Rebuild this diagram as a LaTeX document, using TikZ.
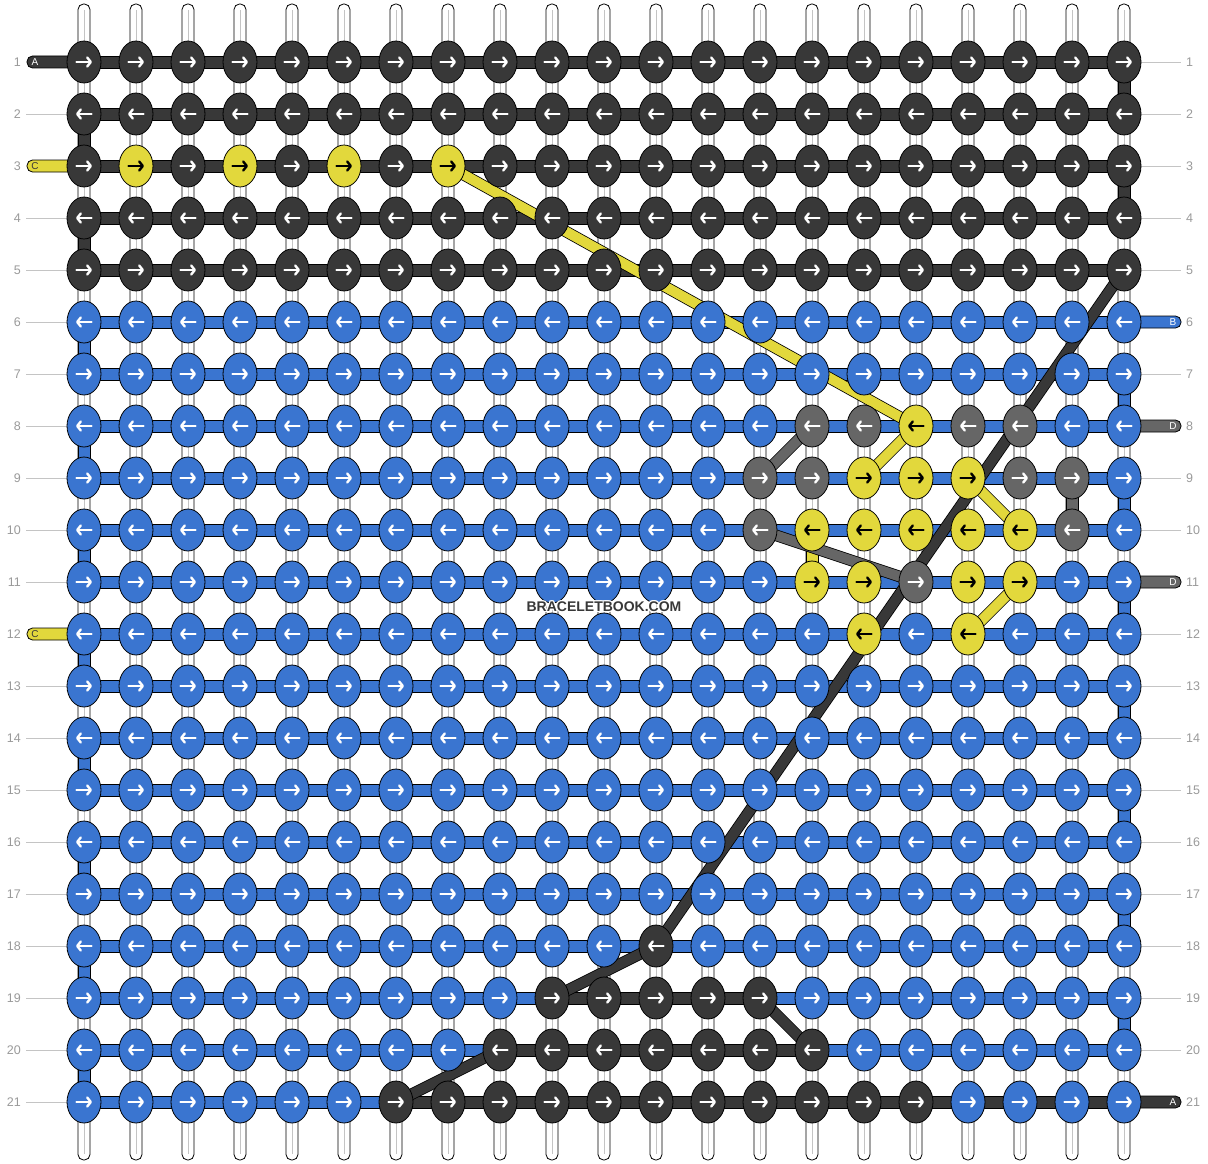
\documentclass[tikz,border=0pt]{standalone}
\usepackage{fontspec}
\setmainfont{Liberation Sans}
\usetikzlibrary{arrows.meta}
\definecolor{kD}{HTML}{383838}
\definecolor{kB}{HTML}{3A75D0}
\definecolor{kY}{HTML}{E2D83C}
\definecolor{kG}{HTML}{666666}
\colorlet{aD}{white}\colorlet{aB}{white}\colorlet{aG}{white}\colorlet{aY}{black}
\colorlet{tD}{white}\colorlet{tB}{white}\colorlet{tG}{white}\colorlet{tY}{kD}
\definecolor{numgray}{HTML}{9A9A9A}
\definecolor{linegray}{HTML}{C4C4C4}
\tikzset{
  outl/.style={line width=0.8pt, draw=black},
  arr/.style={line width=2.4pt, line cap=round, -{Straight Barb[length=3.6pt,width=9pt,round]}},
  numtxt/.style={font=\fontsize{12.5}{14}\selectfont, text=numgray, inner sep=0pt},
  lbl/.style={font=\fontsize{10}{12}\selectfont, inner sep=0pt},
  wm/.style={font=\fontsize{14}{16}\selectfont\bfseries, inner sep=0pt}
}
\begin{document}
\begin{tikzpicture}[x=1pt,y=-1pt]
\useasboundingbox (0,0) rectangle (1208,1164);
\fill[white] (0,0) rectangle (1208,1164);
% knot colour exceptions
\foreach \r/\c/\k in {3/2/Y,3/4/Y,3/6/Y,3/8/Y,
  8/15/G,8/16/G,8/17/Y,8/18/G,8/19/G,
  9/14/G,9/15/G,9/16/Y,9/17/Y,9/18/Y,9/19/G,9/20/G,
  10/14/G,10/15/Y,10/16/Y,10/17/Y,10/18/Y,10/19/Y,10/20/G,
  11/15/Y,11/16/Y,11/17/G,11/18/Y,11/19/Y,
  12/16/Y,12/18/Y,18/12/D,
  19/10/D,19/11/D,19/12/D,19/13/D,19/14/D,
  20/9/D,20/10/D,20/11/D,20/12/D,20/13/D,20/14/D,20/15/D,
  21/7/D,21/8/D,21/9/D,21/10/D,21/11/D,21/12/D,21/13/D,21/14/D,21/15/D,21/16/D,21/17/D}
  {\expandafter\xdef\csname kc-\r-\c\endcsname{\k}}
% horizontal segment exceptions
\foreach \r/\c in {19/10,19/11,19/12,19/13,20/9,20/10,20/11,20/12,20/13,20/14,
  21/7,21/8,21/9,21/10,21/11,21/12,21/13,21/14,21/15,21/16,21/17,21/18,21/19,21/20}
  {\expandafter\xdef\csname hs-\r-\c\endcsname{D}}
% row numbers and thin lines
\foreach \r in {1,...,21}{
  \node[numtxt, anchor=east] (nl\r) at (21,{10+52*\r}) {\r};
  \node[numtxt, anchor=west] (nr\r) at (1186,{10+52*\r}) {\r};
}
\foreach \r in {2,4,5,6,7,8,9,10,11,13,14,15,16,17,18,19,20,21}
  \draw[linegray, line width=0.8pt] (26,{10+52*\r}) -- (67,{10+52*\r});
\foreach \r in {1,2,3,4,5,7,9,10,12,13,14,15,16,17,18,19,20}
  \draw[linegray, line width=0.8pt] (1141,{10+52*\r}) -- (1181,{10+52*\r});
% vertical white strands
\foreach \c in {1,...,21}{
  \draw[outl, fill=white, rounded corners=5.5pt] ({26+52*\c},4) rectangle ({38+52*\c},1160);
  \draw[linegray, line width=0.9pt] ({32+52*\c},10) -- ({32+52*\c},1154);
}
% edge turns and vertical fills
\foreach \r/\c/\k in {1/21/D,2/1/D,3/21/D,4/1/D,6/1/B,7/21/B,8/1/B,9/21/B,10/1/B,11/21/B,
  12/1/B,13/21/B,14/1/B,15/21/B,16/1/B,17/21/B,18/1/B,19/21/B,20/1/B,9/20/G,10/15/Y}
  \draw[outl, fill=k\k] ({26+52*\c},{10+52*\r}) rectangle ({38+52*\c},{62+52*\r});
% stubs
\foreach \r/\k/\t in {1/D/A,3/Y/C,12/Y/C}{
  \draw[outl, fill=k\k, rounded corners=5.5pt] (27,{4+52*\r}) rectangle (90,{16+52*\r});
  \node[lbl, text=t\k] (sl\r) at (35,{10.5+52*\r}) {\t};
}
\foreach \r/\k/\t in {6/B/B,8/G/D,11/G/D,21/D/A}{
  \draw[outl, fill=k\k, rounded corners=5.5pt] (1118,{4+52*\r}) rectangle (1181,{16+52*\r});
  \node[lbl, text=t\k] (sr\r) at (1173,{10.5+52*\r}) {\t};
}
% horizontal segments
\foreach \r in {1,...,21}{
  \foreach \c in {1,...,20}{
    \ifcsname hs-\r-\c\endcsname
      \edef\kk{\csname hs-\r-\c\endcsname}%
    \else
      \ifnum\r<6 \def\kk{D}\else\def\kk{B}\fi
    \fi
    \draw[outl, fill=k\kk] ({32+52*\c},{4+52*\r}) rectangle ({84+52*\c},{16+52*\r});
  }
}
% diagonal floats
\foreach \ra/\ca/\rb/\cb/\k in {3/8/8/17/Y,8/17/9/16/Y,9/18/10/19/Y,11/19/12/18/Y,
  8/15/9/14/G,10/14/11/17/G,
  5/21/18/12/D,18/12/19/10/D,19/14/20/15/D,20/9/21/7/D}{
  \draw[black, line width=11.6pt] ({32+52*\ca},{10+52*\ra}) -- ({32+52*\cb},{10+52*\rb});
  \draw[k\k, line width=10pt] ({32+52*\ca},{10+52*\ra}) -- ({32+52*\cb},{10+52*\rb});
}
% knots
\foreach \r in {1,...,21}{
  \foreach \c in {1,...,21}{
    \ifcsname kc-\r-\c\endcsname
      \edef\kk{\csname kc-\r-\c\endcsname}%
    \else
      \ifnum\r<6 \def\kk{D}\else\def\kk{B}\fi
    \fi
    \draw[outl, fill=k\kk] ({32+52*\c},{10+52*\r}) ellipse [x radius=17pt, y radius=21pt];
    \ifodd\r\relax
      \draw[arr, draw=a\kk] ({24.5+52*\c},{10+52*\r}) -- ({40+52*\c},{10+52*\r});
    \else
      \draw[arr, draw=a\kk] ({39.5+52*\c},{10+52*\r}) -- ({24+52*\c},{10+52*\r});
    \fi
  }
}
% watermark
\foreach \dx/\dy in {-1/0,1/0,0/-1,0/1,-1/-1,1/1,-1/1,1/-1}
  \node[wm, text=white] (wmh) at ({604+\dx},{607+\dy}) {BRACELETBOOK.COM};
\node[wm, text=kD] (wmark) at (604,607) {BRACELETBOOK.COM};
\end{tikzpicture}
\end{document}
